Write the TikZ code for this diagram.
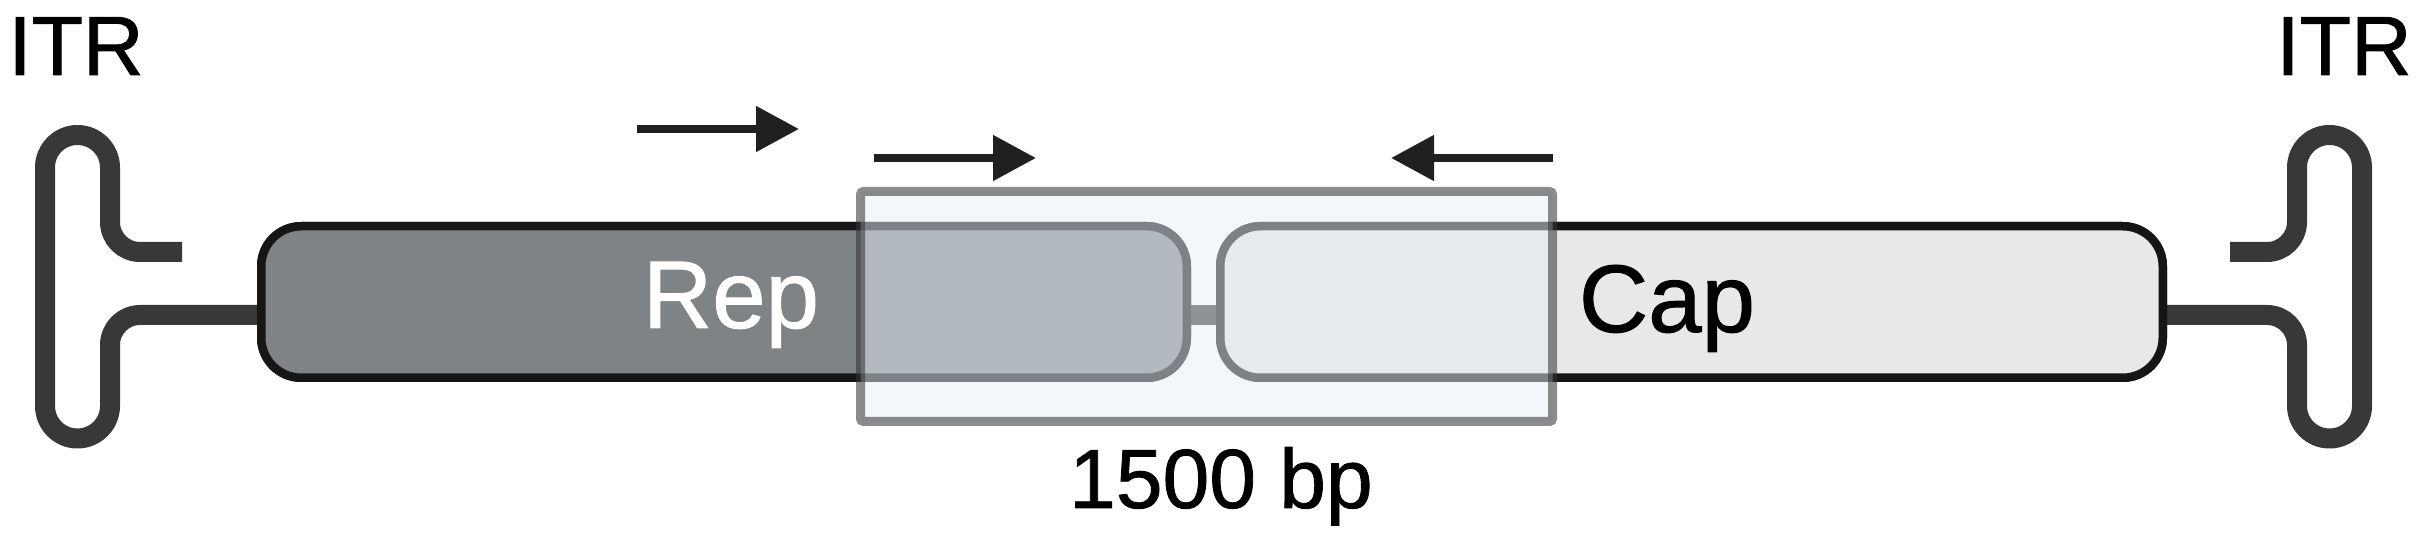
\documentclass[tikz,border=0pt]{standalone}
\usepackage{fontspec}
\setmainfont{Liberation Sans}[FakeBold=1]
\usetikzlibrary{arrows.meta,calc}
\definecolor{itrcol}{HTML}{383838}
\definecolor{boxline}{HTML}{161616}
\definecolor{repfill}{HTML}{7E8386}
\definecolor{capfill}{HTML}{E8E8E8}
\definecolor{ovfill}{RGB}{231,239,249}
\definecolor{ovline}{HTML}{343434}
\definecolor{arrcol}{HTML}{202020}
\tikzset{
  itrline/.style={draw=itrcol, line width=20pt, line cap=butt, line join=round},
  genebox/.style={draw=boxline, line width=8.5pt, rounded corners=40pt, inner sep=0pt, minimum height=151.5pt},
  overlay/.style={draw=ovline, draw opacity=0.57, fill=ovfill, fill opacity=0.5, line width=9pt, rounded corners=3pt, inner sep=0pt, minimum width=692pt, minimum height=230pt},
  primer/.style={draw=arrcol, line width=8pt, -{Triangle[length=43pt,width=44pt]}},
  bigtext/.style={font=\fontsize{84}{90}\selectfont, inner sep=0pt, anchor=base},
  genetext/.style={font=\fontsize{96}{100}\selectfont, inner sep=0pt, anchor=base}
}
\begin{document}
\begin{tikzpicture}[x=1pt,y=1pt]
\useasboundingbox (0,0) rectangle (2417,535);
% gene boxes (defined first for names)
\path (724,233) node[genebox, minimum width=925.5pt] (rep) {};
\path (1691.5,233) node[genebox, minimum width=942.5pt] (cap) {};
% ITR hairpins and backbone (behind boxes)
\coordinate (lstub) at (182,283);
\coordinate (rstub) at (2230,283);
\draw[itrline] (lstub) -- (140,283) arc[start angle=270,end angle=180,radius=30pt]
  -- (110,367.5) arc[start angle=0,end angle=180,radius=32.5pt]
  -- (45,129) arc[start angle=180,end angle=360,radius=32.5pt]
  -- (110,190) arc[start angle=180,end angle=90,radius=30pt]
  -- (rep.west |- {(0,220)});
\draw[itrline] (rstub) -- (2267,283) arc[start angle=270,end angle=360,radius=30pt]
  -- (2297,367.5) arc[start angle=180,end angle=0,radius=32.5pt]
  -- (2362,129) arc[start angle=0,end angle=-180,radius=32.5pt]
  -- (2297,190) arc[start angle=0,end angle=90,radius=30pt]
  -- (cap.east |- {(0,220)});
\draw[itrline] (rep.east |- {(0,220)}) -- (cap.west |- {(0,220)});
% boxes on top
\path (724,233) node[genebox, fill=repfill, minimum width=925.5pt] (repb) {};
\path (1691.5,233) node[genebox, fill=capfill, minimum width=942.5pt] (capb) {};
\node[genetext, text=white] (replab) at (731,207) {Rep};
\node[genetext, text=black] (caplab) at (1667,203) {Cap};
% amplicon overlay
\node[overlay] (amp) at (1206.5,228.5) {};
\node[bigtext] (bp) at (1221,27) {1500 bp};
% ITR labels
\node[bigtext] (itrl) at (76,460) {ITR};
\node[bigtext] (itrr) at (2344,460) {ITR};
% primers
\coordinate (p1a) at (637,406); \coordinate (p1b) at (799,406);
\coordinate (p2a) at (874,377); \coordinate (p2b) at (1036,377);
\coordinate (p3a) at (1553,377); \coordinate (p3b) at (1391,377);
\draw[primer] (p1a) -- (p1b);
\draw[primer] (p2a) -- (p2b);
\draw[primer] (p3a) -- (p3b);
\end{tikzpicture}
\end{document}
